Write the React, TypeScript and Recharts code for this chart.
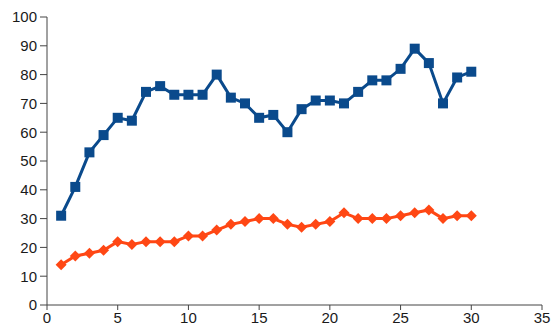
import React from 'react';
import { LineChart, Line, XAxis, YAxis } from 'recharts';

const xValues = [1,2,3,4,5,6,7,8,9,10,11,12,13,14,15,16,17,18,19,20,21,22,23,24,25,26,27,28,29,30];
const blueSeries = [31,41,53,59,65,64,74,76,73,73,73,80,72,70,65,66,60,68,71,71,70,74,78,78,82,89,84,70,79,81];
const orangeSeries = [14,17,18,19,22,21,22,22,22,24,24,26,28,29,30,30,28,27,28,29,32,30,30,30,31,32,33,30,31,31];
const xTicks = [0,5,10,15,20,25,30,35];
const yTicks = [0,10,20,30,40,50,60,70,80,90,100];

const data = xValues.map((x, i) => ({ x, blue: blueSeries[i], orange: orangeSeries[i] }));

const BLUE = '#0a4a8c';
const ORANGE = '#ff4714';

const SquareDot = (props: any) => {
  const { cx, cy } = props;
  if (cx == null || cy == null) return null;
  return <rect x={cx - 5} y={cy - 5} width={10} height={10} fill={BLUE} />;
};

const DiamondDot = (props: any) => {
  const { cx, cy } = props;
  if (cx == null || cy == null) return null;
  return <path d={`M${cx},${cy - 5.5}L${cx + 5.5},${cy}L${cx},${cy + 5.5}L${cx - 5.5},${cy}Z`} fill={ORANGE} />;
};

const tickStyle = { fill: '#1a1a1a', fontSize: 15, fontFamily: 'Liberation Sans, Arial, sans-serif' };

export default function App() {
  return (
    <div style={{ position: 'absolute', left: 0, top: 0, background: '#fff' }}>
      <LineChart width={555} height={332} data={data} margin={{ top: 17, right: 13, bottom: 0, left: 0 }}>
        <XAxis
          dataKey="x"
          type="number"
          domain={[0, 35]}
          ticks={xTicks}
          height={27}
          tickSize={5}
          tickMargin={2}
          stroke="#444"
          tick={tickStyle}
          allowDataOverflow
        />
        <YAxis
          type="number"
          domain={[0, 100]}
          ticks={yTicks}
          width={47}
          tickSize={7}
          tickMargin={3}
          stroke="#444"
          tick={tickStyle}
          interval={0}
        />
        <Line dataKey="blue" stroke={BLUE} strokeWidth={3} dot={<SquareDot />} isAnimationActive={false} />
        <Line dataKey="orange" stroke={ORANGE} strokeWidth={3} dot={<DiamondDot />} isAnimationActive={false} />
      </LineChart>
    </div>
  );
}
